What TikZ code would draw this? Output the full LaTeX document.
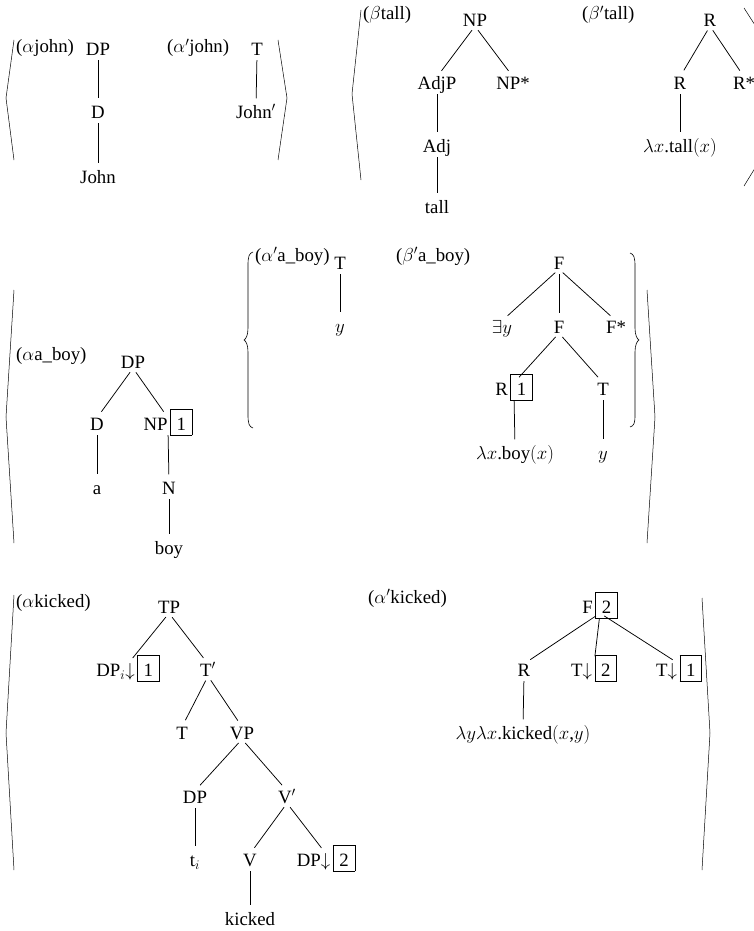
\RequirePackage{fix-cm}
\documentclass[tikz,border=0pt]{standalone}
\usepackage{fontspec}
\setmainfont{Liberation Serif}
\newcommand{\bx}[1]{\hspace{2.5pt}{\setlength{\fboxsep}{0pt}\setlength{\fboxrule}{0.5pt}\fbox{\rule[-5pt]{0pt}{26pt}\hspace{6pt}#1\hspace{6pt}}}}
\begin{document}
\begin{tikzpicture}[x=1pt,y=-1pt,
  tn/.style={inner sep=0pt,outer sep=0pt,text height=12.4pt,text depth=0pt,font=\fontsize{18.8}{22}\selectfont},
  lab/.style={inner sep=0pt,anchor=base west,font=\fontsize{18.8}{22}\selectfont},
  br/.style={line width=0.75pt,shorten <=5pt,shorten >=7.5pt},
  ang/.style={line width=0.5pt}]
\useasboundingbox (0,0) rectangle (754,931);

% ---------- top row ----------
\node[lab] (lj) at (16,53) {($\alpha$john)};
\node[tn] (j1) at (98,49) {DP};
\node[tn] (j2) at (98,112) {D};
\node[tn] (j3) at (98,177) {John};
\node[lab] (lj2) at (167,53) {($\alpha'$john)};
\node[tn] (k1) at (257,49) {T};
\node[tn] (k2) at (256,112) {John$'$};

\node[lab] (lt) at (363,20) {($\beta$tall)};
\node[tn] (t1) at (475,20) {NP};
\node[tn] (t2) at (437,83) {AdjP};
\node[tn] (t3) at (513,83) {NP*};
\node[tn] (t4) at (437,146) {Adj};
\node[tn] (t5) at (437,207) {tall};

\node[lab] (lt2) at (582,20) {($\beta'$tall)};
\node[tn] (u1) at (710,20) {R};
\node[tn] (u2) at (680,83) {R};
\node[tn] (u3) at (744,83) {R*};
\node[tn] (u4) at (680,146) {$\lambda x$.tall$(x)$};

\draw[br] (j1.south) -- (j2.north);
\draw[br] (j2.south) -- (j3.north);
\draw[br] (k1.south) -- (k2.north);
\draw[br] (t1.south) -- (t2.north);
\draw[br] (t1.south) -- (t3.north);
\draw[br] (t2.south) -- (t4.north);
\draw[br] (t4.south) -- (t5.north);
\draw[br] (u1.south) -- (u2.north);
\draw[br] (u1.south) -- (u3.north);
\draw[br] (u2.south) -- (u4.north);

\draw[ang] (14,40) -- (6,98) -- (14,160);
\draw[ang] (278,40) -- (287,98) -- (278,160);
\draw[ang] (361,10) -- (352,94) -- (361,180);
\draw[ang] (744,8) -- (800,95) -- (744,186);

% ---------- middle row ----------
\node[lab] (lb) at (16,360) {($\alpha$a\_boy)};
\node[tn] (b1) at (133,362) {DP};
\node[tn] (b2) at (97,424) {D};
\node[tn] (b3) at (168,424) {NP\bx{1}};
\node[tn] (b4) at (97,488) {a};
\node[tn] (b5) at (169,488) {N};
\node[tn] (b6) at (169,548) {boy};

\node[lab] (lb2) at (255,261) {($\alpha'$a\_boy)};
\node[tn] (c1) at (340,263) {T};
\node[tn] (c2) at (340,326) {$y$};

\node[lab] (lb3) at (396,261) {($\beta'$a\_boy)};
\node[tn] (d1) at (559,263) {F};
\node[tn] (d2) at (502,327) {$\exists y$};
\node[tn] (d3) at (559,327) {F};
\node[tn] (d4) at (616,327) {F*};
\node[tn] (d5) at (514,389) {R\bx{1}};
\node[tn] (d6) at (603,389) {T};
\node[tn] (d7) at (515,453) {$\lambda x$.boy$(x)$};
\node[tn] (d8) at (603,453) {$y$};

\draw[br] (b1.south) -- (b2.north);
\draw[br] (b1.south) -- (b3.north);
\draw[br] (b2.south) -- (b4.north);
\draw[br] (b3.south) -- (b5.north);
\draw[br] (b5.south) -- (b6.north);
\draw[br] (c1.south) -- (c2.north);
\draw[br] (d1.south) -- (d2.north);
\draw[br] (d1.south) -- (d3.north);
\draw[br] (d1.south) -- (d4.north);
\draw[br] (d3.south) -- (d5.north);
\draw[br] (d3.south) -- (d6.north);
\draw[br] (d5.south) -- (d7.north);
\draw[br] (d6.south) -- (d8.north);

\draw[ang] (14,290) -- (6,417) -- (14,543);
\draw[ang] (647,290) -- (655,417) -- (647,543);
\draw[line width=0.6pt] (253,252) .. controls (249,253) and (248,257) .. (248,265)
  -- (248,328) .. controls (248,335) and (246,339) .. (244,340)
  .. controls (246,341) and (248,345) .. (248,352)
  -- (248,415) .. controls (248,423) and (249,427) .. (253,428);
\draw[line width=0.6pt] (630,253) .. controls (634,254) and (635,258) .. (635,266)
  -- (635,328) .. controls (635,335) and (637,339) .. (639,340)
  .. controls (637,341) and (635,345) .. (635,352)
  -- (635,415) .. controls (635,423) and (634,426) .. (630,427);

% ---------- bottom row ----------
\node[lab] (lk) at (16,607) {($\alpha$kicked)};
\node[tn] (e1) at (169,607) {TP};
\node[tn] (e2) at (128,670) {DP$_i{\downarrow}$\bx{1}};
\node[tn] (e3) at (208,670) {T$'$};
\node[tn] (e4) at (182,733) {T};
\node[tn] (e5) at (242,733) {VP};
\node[tn] (e6) at (195,797) {DP};
\node[tn] (e7) at (287,797) {V$'$};
\node[tn] (e8) at (195,860) {t$_i$};
\node[tn] (e9) at (250,860) {V};
\node[tn] (e10) at (326,860) {DP$\downarrow$\bx{2}};
\node[tn] (e11) at (250,919) {kicked};

\node[lab] (lk2) at (368,603) {($\alpha'$kicked)};
\node[tn] (f1) at (600,607) {F\bx{2}};
\node[tn] (f2) at (524,670) {R};
\node[tn] (f3) at (594,670) {T$\downarrow$\bx{2}};
\node[tn] (f4) at (679,670) {T$\downarrow$\bx{1}};
\node[tn] (f5) at (523,733) {$\lambda y\lambda x$.kicked$(x$,$y)$};

\draw[br] (e1.south) -- (e2.north);
\draw[br] (e1.south) -- (e3.north);
\draw[br] (e3.south) -- (e4.north);
\draw[br] (e3.south) -- (e5.north);
\draw[br] (e5.south) -- (e6.north);
\draw[br] (e5.south) -- (e7.north);
\draw[br] (e6.south) -- (e8.north);
\draw[br] (e7.south) -- (e9.north);
\draw[br] (e7.south) -- (e10.north);
\draw[br] (e9.south) -- (e11.north);
\draw[br] (f1.south) -- (f2.north);
\draw[br] (f1.south) -- (f3.north);
\draw[br] (f1.south) -- (f4.north);
\draw[br] (f2.south) -- (f5.north);

\draw[ang] (14,595) -- (6,733) -- (14,870);
\draw[ang] (702,598) -- (710,733) -- (702,870);
\end{tikzpicture}
\end{document}
